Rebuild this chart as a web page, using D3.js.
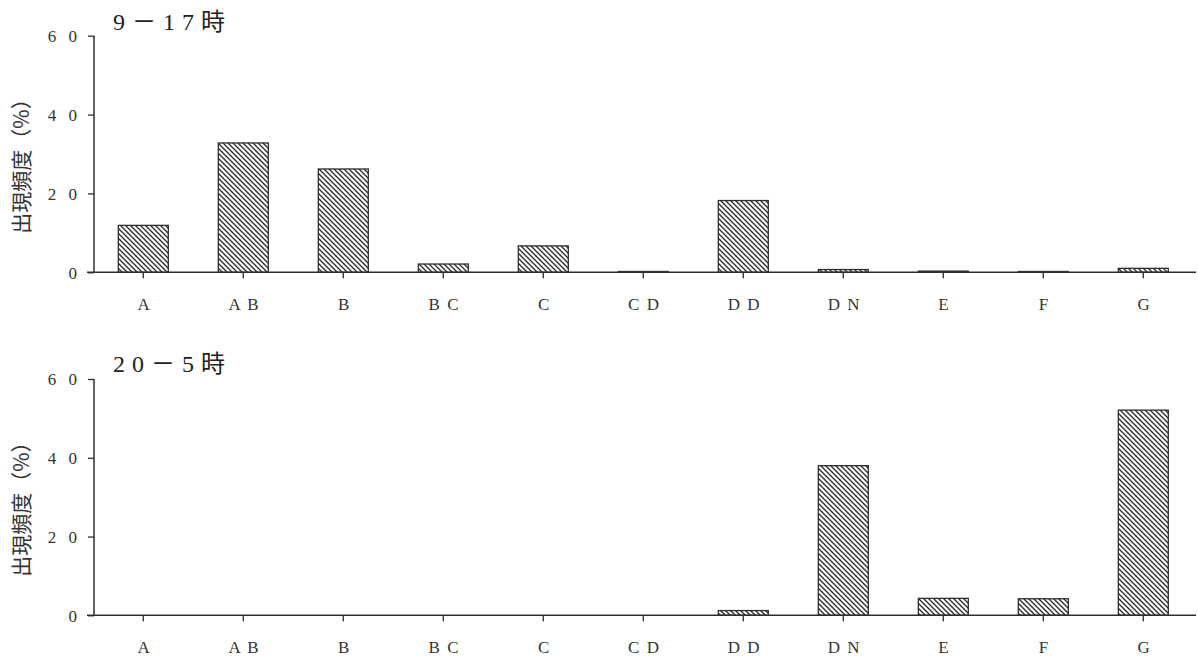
<!DOCTYPE html>
<html><head><meta charset="utf-8">
<script src="https://cdn.jsdelivr.net/npm/d3@7"></script>
<style>
html,body{margin:0;padding:0;background:#fff;}
svg{display:block;}
</style></head>
<body>
<svg id="chart" width="1198" height="659"></svg>
<script>
const categories = ["A","AB","B","BC","C","CD","DD","DN","E","F","G"];
const dayValues   = [11.9, 32.8, 26.2, 2.1, 6.7, 0.2, 18.2, 0.7, 0.3, 0.2, 1.0];
const nightValues = [0, 0, 0, 0, 0, 0, 1.2, 38.0, 4.3, 4.2, 52.1];
const yTicks = [0, 20, 40, 60];
const panelTitles = ["9－17時", "20－5時"];
const yLabel = "出現頻度（%）";

const svg = d3.select("#chart");
const ink = "#2e2e2e";
const serif = "'Liberation Serif','DejaVu Serif','Noto Sans CJK JP',serif";

const defs = svg.append("defs");
const pat = defs.append("pattern").attr("id","hatch")
  .attr("patternUnits","userSpaceOnUse").attr("width",5).attr("height",5);
pat.append("rect").attr("width",5).attr("height",5).attr("fill","#fff");
pat.append("path").attr("d","M0,0L5,5M-1,4L1,6M4,-1L6,1")
  .attr("stroke","#2a2a2a").attr("stroke-width",1.3);

const x = d3.scaleBand().domain(categories).range([93.3, 1193.3])
  .paddingInner(0.5).paddingOuter(0.25);

const panels = [
  {values: dayValues, top: 35.7, bottom: 272.3, title: panelTitles[0], titleY: 30},
  {values: nightValues, top: 379, bottom: 615.3, title: panelTitles[1], titleY: 372}
];

panels.forEach(p => {
  const y = d3.scaleLinear().domain([0,60]).range([p.bottom, p.top]);
  const g = svg.append("g");

  // bars
  g.selectAll("rect.bar").data(categories).enter().append("rect")
    .attr("class","bar")
    .attr("x", d => x(d))
    .attr("width", x.bandwidth())
    .attr("y", (d,i) => y(p.values[i]))
    .attr("height", (d,i) => Math.max(0, y(0) - y(p.values[i])))
    .attr("fill","url(#hatch)")
    .attr("stroke", ink).attr("stroke-width",1.3)
    .style("display", (d,i) => p.values[i] > 0 ? null : "none");

  // y axis
  const yAxis = d3.axisLeft(y).tickValues(yTicks).tickSize(6).tickPadding(0)
    .tickFormat(d => String(d).split("").join(" "));
  const ya = g.append("g").attr("transform","translate(94,0)").call(yAxis);
  ya.select(".domain").attr("d", `M0,${y(60)}V${y(0)}`).attr("stroke",ink).attr("stroke-width",1.5);
  ya.selectAll(".tick line").attr("stroke",ink).attr("stroke-width",1.3);
  ya.selectAll(".tick text").attr("x",-13).attr("dy","0.35em")
    .attr("fill","#333").style("font-family",serif).style("font-size","17px")
    .style("letter-spacing","4px");

  // x axis
  const xAxis = d3.axisBottom(x).tickSize(6).tickPadding(0)
    .tickFormat(d => d.split("").join(" "));
  const xa = g.append("g").attr("transform",`translate(0,${y(0)})`).call(xAxis);
  xa.select(".domain").attr("d","M87,0H1196").attr("stroke",ink).attr("stroke-width",1.5);
  xa.selectAll(".tick line").attr("stroke",ink).attr("stroke-width",1.3);
  xa.selectAll(".tick text").attr("y",38).attr("dy",0).attr("dx","1px")
    .attr("fill","#333").style("font-family",serif).style("font-size","17px")
    .style("letter-spacing","1.5px");

  // title
  g.append("text").attr("x",113).attr("y",p.titleY)
    .attr("fill","#222").style("font-family",serif).style("font-size","24px")
    .style("letter-spacing","7px")
    .text(p.title);

  // y label
  const cy = (p.top + p.bottom)/2 + 7;
  g.append("text").attr("transform",`translate(29,${cy}) rotate(-90)`)
    .attr("text-anchor","middle")
    .attr("fill","#333").style("font-family","'Noto Sans CJK JP',sans-serif").style("font-size","21px")
    .text(yLabel);
});
</script>
</body></html>
